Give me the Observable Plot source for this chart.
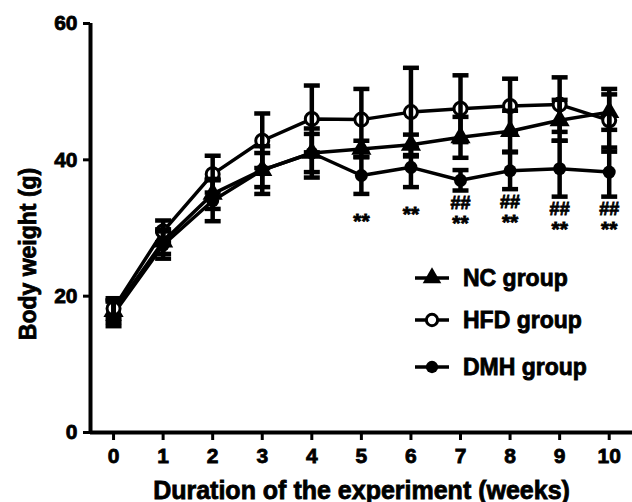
<!DOCTYPE html>
<html>
<head>
<meta charset="utf-8">
<script src="https://cdn.jsdelivr.net/npm/d3@7"></script>
<script src="https://cdn.jsdelivr.net/npm/@observablehq/plot@0.6"></script>
<style>
  html, body { margin: 0; padding: 0; background: #fff; }
  #chart { width: 632px; height: 502px; }
  #chart svg text { stroke: #000; stroke-width: 0.8px; paint-order: stroke; }
</style>
</head>
<body>
<div id="chart"></div>
<script>
// ---- data ----
const weeks = [0, 1, 2, 3, 4, 5, 6, 7, 8, 9, 10];
const groups = ["NC group", "HFD group", "DMH group"];
const ncMean  = [17.8, 28.0, 35.0, 38.5, 41.0, 41.6, 42.2, 43.3, 44.2, 45.8, 47.0];
const ncSd    = [1.6, 1.8, 2.2, 2.5, 2.8, 1.2, 1.5, 3.0, 3.0, 3.0, 2.6];
const hfdMean = [18.2, 29.5, 37.9, 42.8, 46.0, 45.9, 47.0, 47.5, 47.9, 48.1, 45.8];
const hfdSd   = [1.5, 1.6, 2.7, 4.0, 4.9, 4.5, 6.5, 4.9, 4.0, 4.0, 4.6];
const dmhMean = [17.4, 27.5, 34.0, 38.5, 41.0, 37.7, 38.9, 37.0, 38.4, 38.7, 38.2];
const dmhSd   = [1.8, 2.0, 3.0, 3.5, 3.6, 2.7, 2.9, 1.5, 2.7, 4.1, 3.6];
const starWeeks = [5, 6, 7, 8, 9, 10];   // "**"
const hashWeeks = [7, 8, 9, 10];         // "##"
const yTicks = [0, 20, 40, 60];
const xTitle = "Duration of the experiment (weeks)";
const yTitle = "Body weight (g)";

const FONT = "'Liberation Sans', Arial, Helvetica, sans-serif";

function rows(group, means, sds) {
  return weeks.map((w, i) => ({group, week: w, mean: means[i], sd: sds[i]}));
}
const nc = rows(groups[0], ncMean, ncSd);
const hfd = rows(groups[1], hfdMean, hfdSd);
const dmh = rows(groups[2], dmhMean, dmhSd);
const all = [...nc, ...hfd, ...dmh];

const dmhLow = w => { const i = weeks.indexOf(w); return dmhMean[i] - dmhSd[i]; };
const starOnly = starWeeks.filter(w => !hashWeeks.includes(w)).map(w => ({week: w, y: dmhLow(w)}));
const starWithHash = starWeeks.filter(w => hashWeeks.includes(w)).map(w => ({week: w, y: dmhLow(w)}));
const hashes = hashWeeks.map(w => ({week: w, y: dmhLow(w)}));

// horizontal cap symbol for error bars
const capSymbol = {
  draw(context, size) {
    const r = Math.sqrt(size / Math.PI);
    context.moveTo(-r, 0);
    context.lineTo(r, 0);
  }
};

const xMin = -0.465;
const chart = Plot.plot({
  width: 632,
  height: 502,
  marginLeft: 90,
  marginRight: 0,
  marginTop: 23,
  marginBottom: 70,
  style: {fontFamily: FONT, fontWeight: "bold", background: "#fff", color: "#000", overflow: "visible"},
  x: {domain: [xMin, 10.47], axis: null},
  y: {domain: [0, 60], axis: null},
  marks: [
    Plot.axisX({ticks: weeks, tickSize: 8, tickPadding: 8, tickFormat: d => String(d),
      fontSize: 21, fontWeight: "bold", strokeWidth: 3, label: null}),
    Plot.axisY({ticks: yTicks, tickSize: 7, tickPadding: 6, tickFormat: d => String(d),
      fontSize: 21, fontWeight: "bold", strokeWidth: 3, label: null}),
    Plot.ruleY([0], {stroke: "#000", strokeWidth: 4}),
    Plot.ruleX([xMin], {stroke: "#000", strokeWidth: 4}),
    Plot.text([xTitle], {frameAnchor: "bottom", lineAnchor: "bottom", textAnchor: "middle", dy: 66, fontSize: 25, fontWeight: "bold", fill: "#000"}),
    Plot.text([yTitle], {frameAnchor: "left", rotate: -90, textAnchor: "middle", lineAnchor: "middle", dx: -62, dy: 26, fontSize: 23, fontWeight: "bold", fill: "#000"}),
    // lines
    Plot.line(all, {x: "week", y: "mean", z: "group", stroke: "#000", strokeWidth: 3.5}),
    // markers
    Plot.dot(nc, {x: "week", y: "mean", symbol: "triangle", r: 7.5, fill: "#000"}),
    Plot.dot(dmh, {x: "week", y: "mean", symbol: "circle", r: 6.5, fill: "#000"}),
    Plot.dot(hfd, {x: "week", y: "mean", symbol: "circle", r: 6.5, fill: "#fff", stroke: "#000", strokeWidth: 3}),
    // error bars
    Plot.ruleX(all, {x: "week", y1: d => d.mean - d.sd, y2: d => d.mean + d.sd, stroke: "#000", strokeWidth: 4.5}),
    Plot.dot(all, {x: "week", y: d => d.mean + d.sd, symbol: capSymbol, r: 8, fill: "none", stroke: "#000", strokeWidth: 4.5}),
    Plot.dot(all, {x: "week", y: d => d.mean - d.sd, symbol: capSymbol, r: 8, fill: "none", stroke: "#000", strokeWidth: 4.5}),
    // significance marks
    Plot.text(hashes, {x: "week", y: "y", text: () => "##", dy: 13, fontSize: 18, fontWeight: "bold", fill: "#000"}),
    Plot.text(starWithHash, {x: "week", y: "y", text: () => "**", dy: 33, fontSize: 21, fontWeight: "bold", fill: "#000"}),
    Plot.text(starOnly, {x: "week", y: "y", text: () => "**", dy: 27, fontSize: 21, fontWeight: "bold", fill: "#000"})
  ]
});

// legend drawn inside the plot area
const svg = d3.select(chart);
const legendY = [278, 320, 367];
const legendStyles = [
  {type: d3.symbolTriangle, fill: "#000", stroke: "none", size: 150},
  {type: d3.symbolCircle, fill: "#fff", stroke: "#000", size: 100},
  {type: d3.symbolCircle, fill: "#000", stroke: "none", size: 120}
];
const lg = svg.append("g").attr("font-family", FONT).attr("font-weight", "bold").attr("text-anchor", "start");
groups.forEach((g, i) => {
  const y = legendY[i];
  const row = lg.append("g");
  row.append("line").attr("x1", 415).attr("x2", 449).attr("y1", y).attr("y2", y)
    .attr("stroke", "#000").attr("stroke-width", 3.5);
  row.append("path").attr("transform", `translate(432,${y})`)
    .attr("d", d3.symbol(legendStyles[i].type, legendStyles[i].size)())
    .attr("fill", legendStyles[i].fill).attr("stroke", legendStyles[i].stroke).attr("stroke-width", 3);
  row.append("text").attr("x", 463).attr("y", y + 8).attr("font-size", 23).attr("fill", "#000").text(g);
});

document.getElementById("chart").appendChild(chart);
</script>
</body>
</html>
